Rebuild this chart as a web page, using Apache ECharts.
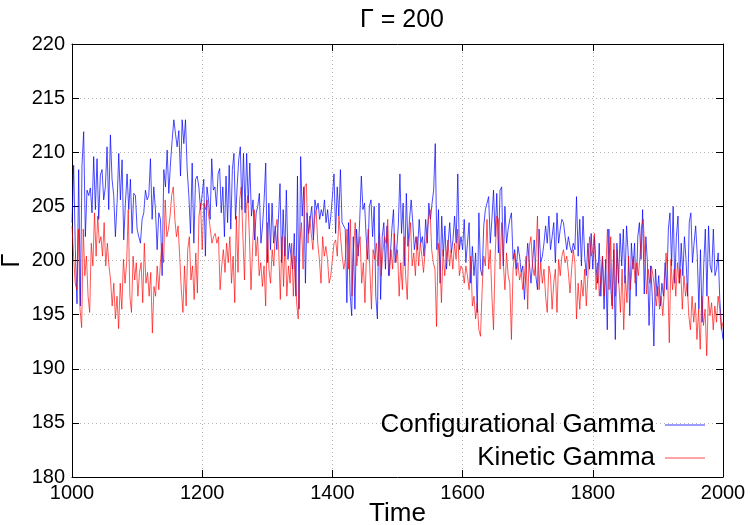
<!DOCTYPE html>
<html>
<head>
<meta charset="utf-8">
<script src="https://cdn.jsdelivr.net/npm/echarts@6/dist/echarts.min.js"></script>
<style>html,body{margin:0;padding:0;background:#fff}#c{width:750px;height:525px}</style>
</head>
<body>
<div id="c"></div>
<script>
const xTicks = [1000, 1200, 1400, 1600, 1800, 2000];
const yTicks = [180, 185, 190, 195, 200, 205, 210, 215, 220];
const seriesNames = ['Configurational Gamma', 'Kinetic Gamma'];

// Configurational Gamma, read in 200-unit windows of Time
const config1000 = [203.5,208.8,201,196,208.4,195.8,208.8,211.9,202.2,206.5,206,206.7,204.4,209.6,204.7,209.4,203.8,207.9,208.4,205.6,206.8,210.5,204.7,211.6,207.5,206,202.2,205.3,209.9,205.6,209.3,201.9,205.3,208,204.7,207.5,202.5,206.2,206,202.9,202.2,201.6,203.8,204.4,206.5,205.6,206,209.4,203.8,206.8,204.7,201,204.4,203.8,198.6,208.4,206.8,210.2,206.2,209,211.1,213,211.7,210.5,212,207.8,213,210.8,213,208.4,206,202.5,209,201.6,207.5,207.8,206.8,204.7];
const config1200 = [204.7,207.5,200.4,206.8,205.6,203.8,209.4,206.5,206.8,205,208,208.5,204.4,206.8,202.2,207.8,203.5,208.8,202.9,208.4,209.9,203.8,206.8,209.3,210.5,204.7,209.9,204.4,209.9,205.3,209,204.1,205.6,201.9,204.4,205,206.2,201.6,203.2,205.6,209,199.8,205.3,201,205.3,201.6,203.2,201,203.8,207.1,199.8,204.7,200.4,206.5,200.1,201.6,200.4,199.2,202.5,196.7,207.8,195.5,209.6,204.1,206.8,197.9,204.4,202.5,203.8,205,201.9,205.6,204.7,205.3,203.8,204.7,204.1,205.6,203.5,204.7,202.9,204.1];
const config1400 = [205.9,208,202.5,206.8,204.1,208.4,203.5,203.5,202.9,196.1,203.5,197,194.9,202.2,195.5,202.9,200.4,203.8,207.8,204.7,205.3,202.2,200.1,205,205.6,202.2,205,196.7,194.6,205.3,196.4,202.2,203.5,199.2,203.2,198.6,200.4,202.9,204.7,199.8,201,203.2,208,202.5,205.3,199.5,206.2,201.3,203.8,205.6,203.5,201,202.2,201,203.8,201.6,202.2,200.4,203.8,201.6,205.3,203.8,205.3,206.5,210.8,201,204.7,197.9,204.1,200.4,203.2,199.2,201.6,203.5,200.7,201.9,204.1,201.6,208,201,202.2];
const config1600 = [201,203.8,199.8,201.6,203.5,197.9,201.3,198.6,200.7,195.2,204.4,199.2,198.6,203.2,204.7,205.3,205.9,201.6,203.8,206.5,202.2,206.2,200.7,206.5,206.8,199.5,205,201.6,202.9,203.8,204.4,200.1,201,199.2,201.3,200.4,198.9,199.5,196.4,199.2,201.6,199.8,197.9,199.8,201.9,198.6,197.3,202.9,199.8,200.4,201.6,203.2,201.6,204.1,201,202.2,203.5,199.8,204.4,201.6,202.9,203.8,203.5,202.2,201,202.2,201.3,200.7,201.6,201,205.9,200.4,203.8,199.5,204.1,200.4,198.6,201.6,199.2,202.5];
const config1800 = [199.2,202.2,199.5,197.9,201.6,196.7,200.4,195.5,200.1,193.6,202.9,197.9,195.8,201,192.7,201.6,197.9,202.5,199.5,202.9,197.9,203.2,200.7,194.9,201.6,199.2,201.6,196.7,202.2,203.5,200.1,204.7,196.9,202.2,199.8,194,199.5,196.7,192.1,199.2,196.7,198.6,195.8,197.9,196.7,199.8,197.3,202.9,204.4,199.5,205,197.9,202.2,204.1,197.9,201.6,198.6,202.2,200.1,196.7,203.5,204.4,199.8,201.6,203.2,200.4,195.5,201,194.3,199.5,202.9,196.7,203.2,199.5,198.9,202.9,198.6,199.2,200.7,196.4,194,192.7];

// Kinetic Gamma
const kinetic1000 = [203.2,200.4,197.9,197.3,202.9,195.5,193.8,202.9,198.6,200.4,196.7,195.2,201.6,199.5,204.4,200.4,204.1,201.6,202.2,200.4,203.5,199.5,201.6,199.5,198.2,195.8,197.9,194.6,196.7,193.7,197.9,195.5,200.1,197.9,199.8,204.7,196.7,195.2,200.4,198.2,199.8,196.7,198.9,199.8,196.1,201.6,197.9,198.9,196.7,198.9,193.3,197.6,196.7,199.5,197.3,199.8,201.6,199.8,205.6,202.2,202.9,204.1,206,206.8,203.8,202.2,203.2,200.4,197.3,195.2,199.5,195.8,201,202.2,198.2,199.5,196.4,200.7,197,204.1,205.3];
const kinetic1200 = [201,205.3,204.7,205.6,204.1,202.9,201.6,202.2,202.5,201.6,202.2,197.3,199.5,201,198.9,201.6,199.8,202.2,197.9,200.4,196.1,204.1,198.9,205.6,206.8,202.2,198.2,204.7,206,202.2,197.3,201.3,204.7,200.4,202.2,198.6,199.8,197.6,199.5,195.8,203.5,199.2,197.9,201,199.5,202.9,203.8,201,196.4,202.2,197.6,202.2,196.7,199.5,197.9,201.6,196.7,200.4,196.1,194.6,201.6,203.5,199.2,206.8,207.1,201.6,204.1,202.5,201,203.8,204.7,201.6,200.1,197.9,202.2,200.4,201.3,200.1,197.9,198.6];
const kinetic1400 = [198.6,201.6,201.9,200.4,204.1,202.2,200.4,199.2,200.1,202.9,199.2,203.8,196.7,201,203.5,199.5,201,202.2,197.9,199.8,196.1,201,202.9,199.2,195.5,201,200.1,201.6,199.5,202.5,198.6,200.7,202.2,201.6,203.8,198.6,201,199.2,202.5,199.8,201,196.7,199.8,197.3,202.2,198.6,196.4,201.6,203.5,199.5,200.7,198.6,202.2,199.5,201.6,200.4,198.9,201,202.2,203.8,204.7,201,199.8,199.2,193.9,201.6,200.1,196.1,201,198.6,200.4,201.9,199.5,201,199.2,201.6,200.1,202.9,198.6,199.5];
const kinetic1600 = [199.2,197.9,199.5,198.6,197.3,200.4,195.8,196.7,194.6,196.1,193.6,193,197.3,200.4,199.5,203.8,199.2,201,196.7,193.6,200.4,204.1,203.8,199.2,203.5,199.8,197.3,200.7,198.6,197.9,192.7,199.2,200.7,198.6,199.8,198.2,198.9,197.3,198.6,200.4,195.5,201.3,202.2,199.5,198.6,200.4,204.1,197.3,199.8,197.9,199.2,196.7,195.2,199.5,198.6,195.5,197.9,199.2,195.2,200.1,198.6,200.4,201,199.8,200.4,198.9,197,199.2,201,199.8,194.6,197.9,195.5,198.2,196.7,199.2,195.8,198.6,202.2,200.4];
const kinetic1800 = [201,202.5,197.3,199.8,196.7,198.6,200.4,196.7,199.2,202.9,197.3,202.2,195.5,201.6,196.7,201,197.9,195.2,199.2,193.6,198.6,196.1,200.4,197.3,199.2,200.4,197.9,199.8,198.6,200.4,203.2,203.8,200.4,196.9,199.2,197.9,199.5,198.6,197.3,195.8,197.6,195.5,196.7,194.9,197.3,200.7,198.6,192.4,200.1,197.3,199.2,196.7,199.8,197.9,199.2,195.5,198.6,196.7,197.9,194.9,193.6,196.7,194.3,196.1,192.7,195.5,191.8,196.7,194,195.5,191.2,196.7,194.9,196.1,193.6,195.8,194.3,196.7,195.5,193.6,194.3];

const windowStarts = [1000, 1200, 1400, 1600, 1800];
const windowLength = 200;

function toPairs(segments) {
  const out = [];
  segments.forEach((seg, k) => {
    const last = k === segments.length - 1;
    const step = windowLength / (last ? seg.length - 1 : seg.length);
    seg.forEach((v, i) => out.push([windowStarts[k] + i * step, v]));
  });
  return out;
}

const configData = toPairs([config1000, config1200, config1400, config1600, config1800]);
const kineticData = toPairs([kinetic1000, kinetic1200, kinetic1400, kinetic1600, kinetic1800]);

const FONT = 'Liberation Sans';
const chart = echarts.init(document.getElementById('c'), null, {renderer: 'canvas'});

const tickCommon = {show: true, inside: true, length: 7, lineStyle: {color: '#000', width: 1}};
const lineCommon = {show: true, onZero: false, lineStyle: {color: '#000', width: 1}};
const gridLine = {show: true, lineStyle: {color: '#b4b4b4', width: 1, type: [1, 3]}};
const plain = v => String(v);

chart.setOption({
  animation: false,
  backgroundColor: '#fff',
  title: {
    text: 'Γ = 200',
    left: 397, textAlign: 'center', top: 3,
    textStyle: {fontFamily: FONT, fontSize: 25, fontWeight: 'normal', color: '#000'}
  },
  grid: {left: 72, right: 27, top: 44, bottom: 48, containLabel: false, outerBoundsMode: 'none'},
  legend: {
    data: seriesNames,
    orient: 'vertical', align: 'right',
    right: 40, top: 407,
    itemWidth: 40, itemHeight: 1, itemGap: 7,
    icon: 'rect',
    textStyle: {fontFamily: FONT, fontSize: 26, color: '#000', lineHeight: 26, padding: [0, 5, 0, 0]}
  },
  xAxis: [
    {
      type: 'value', min: xTicks[0], max: xTicks[xTicks.length - 1], interval: 200,
      position: 'bottom',
      name: 'Time', nameLocation: 'middle', nameGap: 24, nameMoveOverlap: false,
      nameTextStyle: {fontFamily: FONT, fontSize: 26, color: '#000'},
      axisLine: lineCommon, axisTick: tickCommon,
      axisLabel: {fontFamily: FONT, fontSize: 20, color: '#000', margin: 6, formatter: plain},
      splitLine: gridLine
    },
    {
      type: 'value', min: xTicks[0], max: xTicks[xTicks.length - 1], interval: 200,
      position: 'top',
      axisLine: lineCommon, axisTick: tickCommon,
      axisLabel: {show: false}, splitLine: {show: false}
    }
  ],
  yAxis: [
    {
      type: 'value', min: yTicks[0], max: yTicks[yTicks.length - 1], interval: 5,
      position: 'left',
      name: 'Γ', nameLocation: 'middle', nameGap: 47, nameRotate: 90, nameMoveOverlap: false,
      nameTextStyle: {fontFamily: FONT, fontSize: 26, color: '#000'},
      axisLine: lineCommon, axisTick: tickCommon,
      axisLabel: {fontFamily: FONT, fontSize: 20, color: '#000', margin: 7, formatter: plain},
      splitLine: gridLine
    },
    {
      type: 'value', min: yTicks[0], max: yTicks[yTicks.length - 1], interval: 5,
      position: 'right',
      axisLine: lineCommon, axisTick: tickCommon,
      axisLabel: {show: false}, splitLine: {show: false}
    }
  ],
  series: [
    {
      name: seriesNames[0], type: 'line', data: configData,
      xAxisIndex: 0, yAxisIndex: 0,
      showSymbol: false, symbol: 'none',
      itemStyle: {color: '#3b3bff'},
      lineStyle: {color: '#0000ff', width: 1, opacity: 0.7}
    },
    {
      name: seriesNames[1], type: 'line', data: kineticData,
      xAxisIndex: 0, yAxisIndex: 0,
      showSymbol: false, symbol: 'none',
      itemStyle: {color: '#ff4b4b'},
      lineStyle: {color: '#ff0000', width: 1, opacity: 0.65}
    }
  ]
});
</script>
</body>
</html>
